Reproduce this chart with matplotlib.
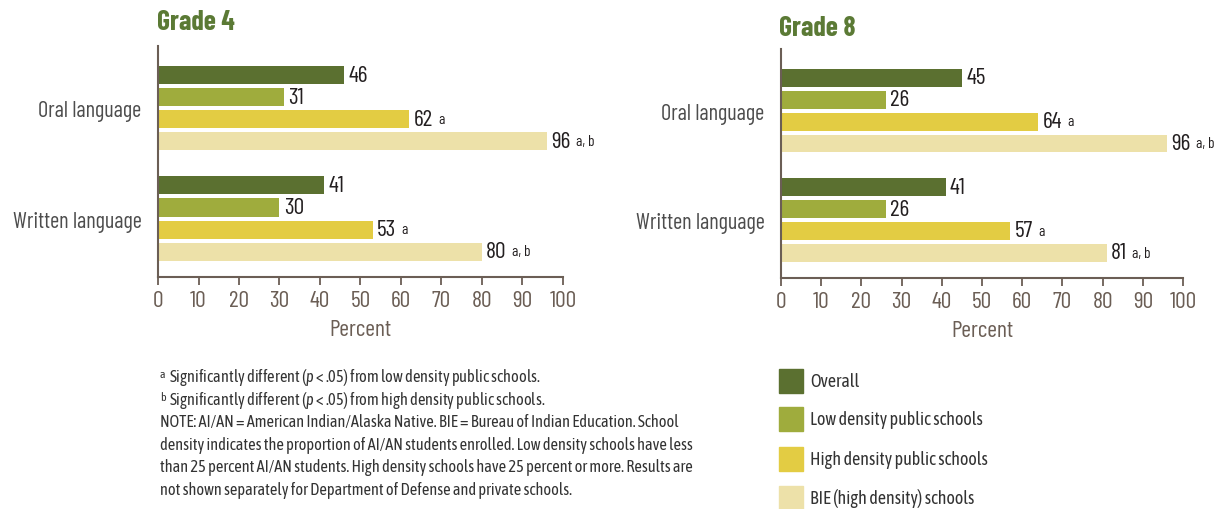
import matplotlib
matplotlib.use("Agg")
import matplotlib.pyplot as plt
from matplotlib.patches import Rectangle

plt.rcParams['font.family'] = ['Barlow Condensed', 'DejaVu Sans']
plt.rcParams['mathtext.fontset'] = 'custom'
plt.rcParams['mathtext.it'] = 'Asap Condensed:italic'
plt.rcParams['mathtext.rm'] = 'Asap Condensed'

NOTE_FONT = ['Asap Condensed', 'DejaVu Sans']

# data
skills = ['Oral language', 'Written language']
groups = ['Overall', 'Low density public schools', 'High density public schools',
          'BIE (high density) schools']
grade4 = [[46, 31, 62, 96], [41, 30, 53, 80]]
grade8 = [[45, 26, 64, 96], [41, 26, 57, 81]]
sig_marks = [['', '', 'a', 'a, b'], ['', '', 'a', 'a, b']]
colors = ['#5b7030', '#9fac3d', '#e3cc43', '#ede1a9']

axis_col = '#6b5e55'
text_col = '#231f20'
title_col = '#5b7a35'

fig = plt.figure(figsize=(12.22, 5.1), dpi=100)


def draw_panel(ax, values, title, title_x, title_y):
    for g, vals in enumerate(values):
        for i, v in enumerate(vals):
            y = g * 5 + i
            ax.barh(y, v, height=0.82, color=colors[i], edgecolor='none')
            t = ax.annotate(str(v), xy=(v, y), xytext=(3, 0), textcoords='offset points',
                            va='center', ha='left', fontsize=17, color=text_col)
            if sig_marks[g][i]:
                ax.annotate(sig_marks[g][i], xy=(1, 0.85), xycoords=t, xytext=(4, 0),
                            textcoords='offset points', va='top', ha='left',
                            fontsize=11, color=text_col)
    ax.set_xlim(0, 100)
    ax.set_ylim(9.15, -1.32)
    ax.set_xticks(range(0, 101, 10))
    ax.set_yticks([1.5, 6.5])
    ax.set_yticklabels(skills)
    ax.tick_params(axis='y', length=0, pad=12, labelsize=16, labelcolor='#4d4d4d')
    ax.tick_params(axis='x', length=6, width=1.3, color=axis_col, pad=3,
                   labelsize=17, labelcolor=axis_col)
    for s in ['top', 'right']:
        ax.spines[s].set_visible(False)
    for s in ['left', 'bottom']:
        ax.spines[s].set_color(axis_col)
        ax.spines[s].set_linewidth(1.5)
    ax.set_xlabel('Percent', fontsize=17, color=axis_col, labelpad=6)
    fig.text(title_x, title_y, title, fontsize=20, fontweight='bold', color=title_col,
             ha='left', va='center')


ax1 = fig.add_axes([0.1293, 0.4549, 0.3314, 0.4529])
ax2 = fig.add_axes([0.6391, 0.4529, 0.3290, 0.4491])
draw_panel(ax1, grade4, 'Grade 4', 157 / 1222, 1 - 23 / 510)
draw_panel(ax2, grade8, 'Grade 8', 779 / 1222, 1 - 29 / 510)

# footnotes
notes = [
    ('a', 'Significantly different ($p$ < .05) from low density public schools.'),
    ('b', 'Significantly different ($p$ < .05) from high density public schools.'),
]
y0 = 1 - 378 / 510
dy = 22.5 / 510
for k, (sup, txt) in enumerate(notes):
    yy = y0 - k * dy
    fig.text(160 / 1222, yy + 0.006, sup, fontsize=8.5, color='#333333', va='center',
             family=NOTE_FONT)
    fig.text(169 / 1222, yy, txt, fontsize=11.8, color='#333333', va='center',
             family=NOTE_FONT)
note_lines = [
    'NOTE: AI/AN = American Indian/Alaska Native. BIE = Bureau of Indian Education. School',
    'density indicates the proportion of AI/AN students enrolled. Low density schools have less',
    'than 25 percent AI/AN students. High density schools have 25 percent or more. Results are',
    'not shown separately for Department of Defense and private schools.',
]
for k, line in enumerate(note_lines):
    fig.text(160 / 1222, y0 - (k + 2) * dy, line, fontsize=11.8, color='#333333',
             va='center', family=NOTE_FONT)

# legend
leg_y = [382, 420, 460, 499]
for c, lab, yc in zip(colors, groups, leg_y):
    fig.patches.append(Rectangle((779 / 1222, 1 - (yc + 12) / 510), 24 / 1222, 24 / 510,
                                 transform=fig.transFigure, color=c, figure=fig))
    fig.text(810 / 1222, 1 - yc / 510, lab, fontsize=13, color='#333333', va='center',
             family=NOTE_FONT)

fig.savefig('out.png', dpi=100)
